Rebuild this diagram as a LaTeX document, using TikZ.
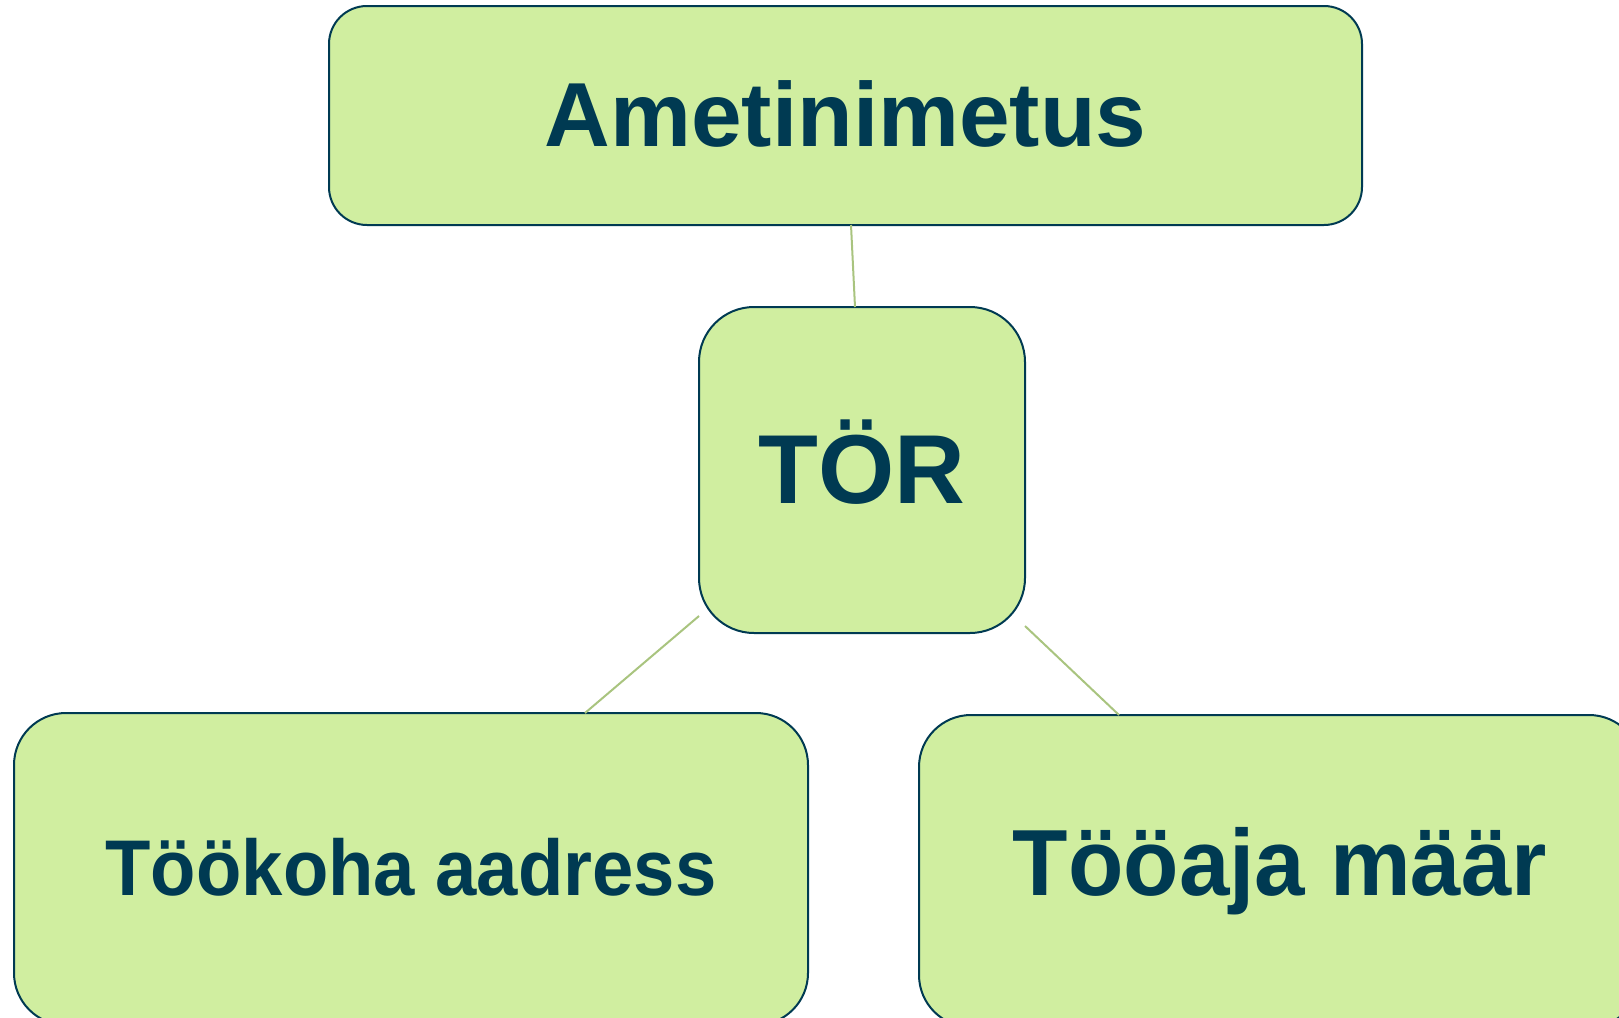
\documentclass[tikz,border=0pt]{standalone}
\usepackage{fontspec}
\setmainfont{Liberation Sans}
\usetikzlibrary{positioning}
\definecolor{leafgreen}{HTML}{D0EEA0}
\definecolor{deepnavy}{HTML}{003A52}
\definecolor{linkgreen}{HTML}{A9C47F}
\tikzset{
  box/.style={draw=deepnavy, fill=leafgreen, line width=2pt, inner sep=0pt, align=center, text=deepnavy, font=\bfseries},
  link/.style={draw=linkgreen, line width=2pt},
}
\begin{document}
\begin{tikzpicture}[x=1pt,y=-1pt]
    \useasboundingbox (0,0) rectangle (1619,1017);
    \clip (0,0) rectangle (1619,1017);
    % ylemine
    \node[box, rounded corners=38pt, minimum width=1033pt, minimum height=219pt] (amet) at (845.5,115.5) {\fontsize{91}{100}\selectfont\raisebox{4pt}{Ametinimetus}};
    % keskmine
    \node[box, rounded corners=55pt, minimum width=326pt, minimum height=326pt] (tor) at (862,470) {\fontsize{98}{100}\selectfont\raisebox{17pt}{TÖR}};
    % alumised
    \node[box, rounded corners=52pt, minimum width=794pt, minimum height=312pt] (koht) at (411,869) {\fontsize{79}{90}\selectfont\raisebox{5pt}{\scalebox{0.94}[1]{Töökoha aadress}}};
    \node[box, rounded corners=52pt, minimum width=722pt, minimum height=312pt] (aeg) at (1280,871) {\fontsize{94}{100}\selectfont\scalebox{0.965}[1]{Tööaja määr}};
    % jooned
    \coordinate (a1) at (851,225);
    \coordinate (t1) at (855,307);
    \coordinate (t2) at (699,616);
    \coordinate (k1) at (585,713);
    \coordinate (t3) at (1025,626);
    \coordinate (g1) at (1119,715);
    \draw[link] (a1) -- (t1);
    \draw[link] (t2) -- (k1);
    \draw[link] (t3) -- (g1);
  \end{tikzpicture}
\end{document}
